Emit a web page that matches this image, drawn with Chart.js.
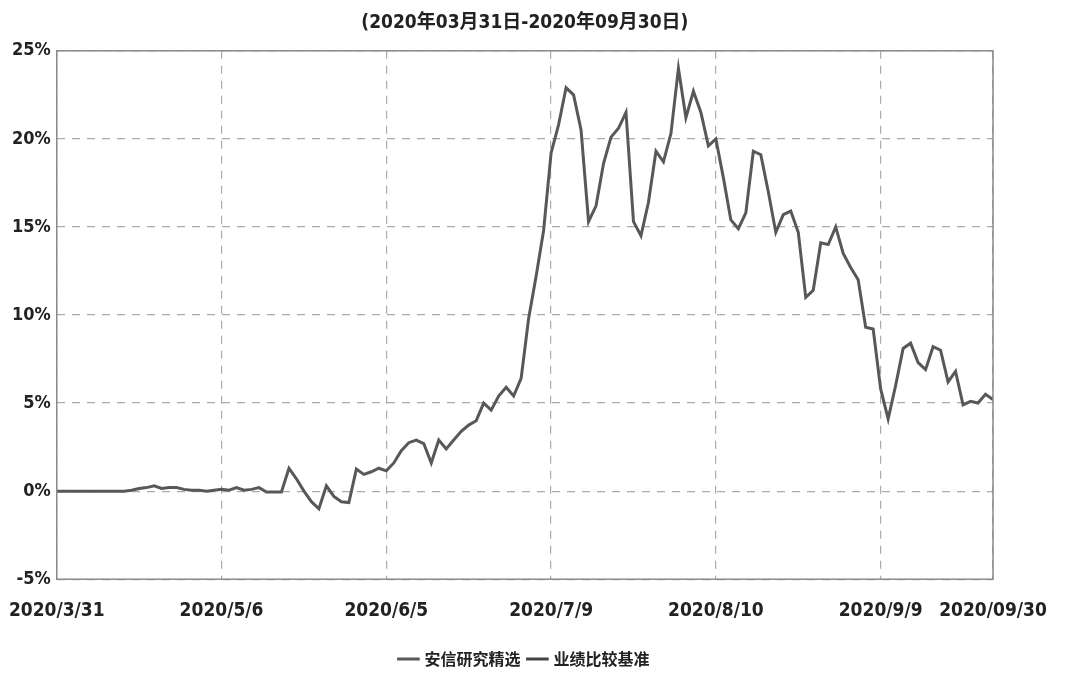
<!DOCTYPE html>
<html>
<head>
<meta charset="utf-8">
<script src="https://cdn.jsdelivr.net/npm/chart.js@4/dist/chart.umd.min.js"></script>
<style>
  html, body { margin: 0; padding: 0; background: #fff; }
  #wrap { width: 1069px; height: 686px; }
</style>
</head>
<body>
<div id="wrap"><canvas id="myChart" width="1069" height="686"></canvas></div>
<script>
// 交易日序号 0 = 2020/3/31 ... 125 = 2020/9/30
const tickIndex = [0, 22, 44, 66, 88, 110, 125];
const tickLabels = ['2020/3/31', '2020/5/6', '2020/6/5', '2020/7/9', '2020/8/10', '2020/9/9', '2020/09/30'];

// 安信研究精选 累计收益率 (%)
const fundValues = [
    0, 0, 0, 0, 0, 0, 0, 0, 0, 0,
    0.05, 0.15, 0.2, 0.3, 0.15, 0.2, 0.2, 0.1, 0.05, 0.05,
    0.0, 0.05, 0.1, 0.05, 0.2, 0.05, 0.1, 0.2, -0.05, -0.05,
    -0.05, 1.3, 0.7, 0.0, -0.6, -1.0, 0.3, -0.3, -0.6, -0.65,
    1.25, 0.95, 1.1, 1.3, 1.15, 1.6, 2.3, 2.75, 2.9, 2.7,
    1.6, 2.9, 2.4, 2.9, 3.4, 3.75, 4.0, 5.0, 4.6, 5.4,
    5.9, 5.4, 6.4, 9.8, 12.2, 14.8, 19.2, 20.8, 22.9, 22.5,
    20.5, 15.3, 16.2, 18.6, 20.1, 20.6, 21.5, 15.3, 14.5, 16.4,
    19.3, 18.7, 20.3, 24.0, 21.2, 22.7, 21.5, 19.6, 20.0, 17.8,
    15.4, 14.9, 15.8, 19.3, 19.1, 17.0, 14.7, 15.7, 15.9, 14.7,
    11.0, 11.4, 14.1, 14.0, 15.0, 13.5, 12.7, 12.0, 9.3, 9.2,
    5.8, 4.1, 6.0, 8.1, 8.4, 7.3, 6.9, 8.2, 8.0, 6.2,
    6.8, 4.9, 5.1, 5.0, 5.5, 5.2
];
// 业绩比较基准: 图中未画出
const benchValues = [];

const seriesNames = ['安信研究精选', '业绩比较基准'];
const titleText = '(2020年03月31日-2020年09月30日)';

const narrow = "'Liberation Sans Narrow', 'DejaVu Sans Condensed', 'Noto Sans CJK SC', sans-serif";
const cjk = "'Noto Sans CJK SC', sans-serif";

// 画图区外框
const frame = {
    id: 'frame',
    afterDraw(chart) {
        const { ctx, chartArea: a } = chart;
        ctx.save();
        ctx.strokeStyle = '#8a8a8a';
        ctx.lineWidth = 1.5;
        ctx.strokeRect(a.left, a.top, a.right - a.left, a.bottom - a.top);
        ctx.restore();
    }
};

const ctx = document.getElementById('myChart').getContext('2d');
const myChart = new Chart(ctx, {
    type: 'line',
    data: {
        datasets: [{
            label: seriesNames[0],
            data: fundValues.map((v, i) => ({ x: i, y: v })),
            borderColor: '#585858',
            borderWidth: 3,
            pointRadius: 0,
            tension: 0
        }, {
            label: seriesNames[1],
            data: benchValues.map((v, i) => ({ x: i, y: v })),
            borderColor: '#444444',
            borderWidth: 3,
            pointRadius: 0
        }]
    },
    options: {
        responsive: false,
        animation: false,
        layout: { padding: { left: 6, right: 76, top: 6, bottom: 9 } },
        scales: {
            x: {
                type: 'linear',
                min: 0,
                max: 125,
                afterBuildTicks: axis => {
                    axis.ticks = tickIndex.map(v => ({ value: v }));
                },
                afterFit: axis => {
                    // 首尾标签允许伸出画图区
                    axis.paddingLeft = 0;
                    axis.paddingRight = 0;
                },
                ticks: {
                    autoSkip: false,
                    maxRotation: 0,
                    padding: 20,
                    color: '#222',
                    font: { family: narrow, size: 19, weight: 'bold' },
                    callback: v => tickLabels[tickIndex.indexOf(v)]
                },
                grid: { color: '#ababab', lineWidth: 1.2, drawTicks: false },
                border: { display: false, dash: [8, 7] }
            },
            y: {
                min: -5,
                max: 25,
                ticks: {
                    stepSize: 5,
                    padding: 6,
                    color: '#222',
                    font: { family: narrow, size: 18, weight: 'bold' },
                    callback: v => v + '%'
                },
                grid: { color: '#ababab', lineWidth: 1.2, drawTicks: false },
                border: { display: false, dash: [8, 7] }
            }
        },
        plugins: {
            title: {
                display: true,
                fullSize: false,
                text: titleText,
                color: '#222',
                font: { family: narrow, size: 19, weight: 'bold' },
                padding: { top: 6, bottom: 16 }
            },
            legend: {
                position: 'bottom',
                fullSize: false,
                labels: {
                    usePointStyle: true,
                    pointStyle: 'line',
                    boxWidth: 30,
                    padding: 9,
                    color: '#222',
                    font: { family: cjk, size: 16, weight: 'bold' }
                }
            },
            tooltip: { enabled: false }
        }
    },
    plugins: [frame]
});
</script>
</body>
</html>
